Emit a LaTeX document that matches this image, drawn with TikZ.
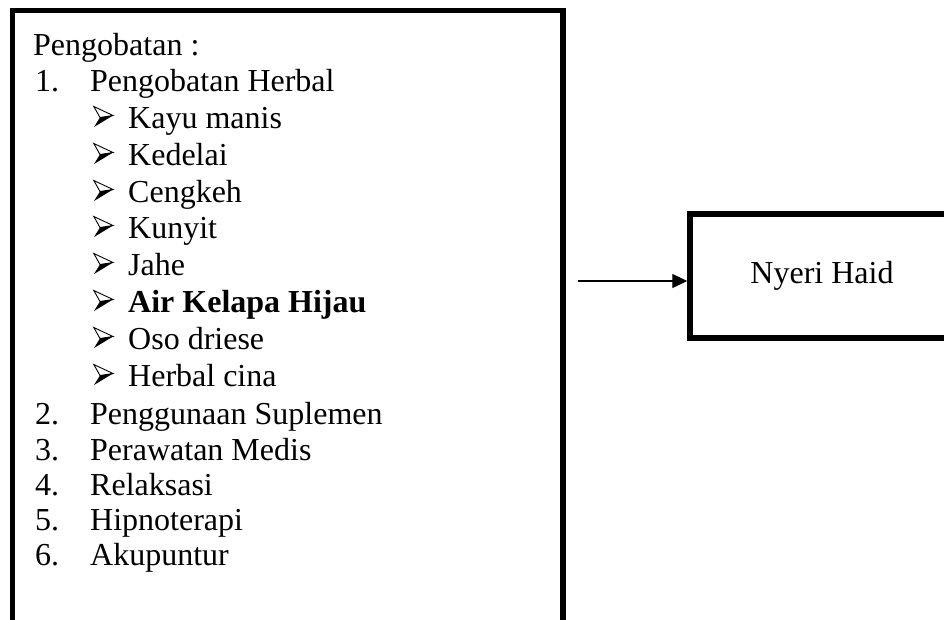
\documentclass[tikz,border=0pt]{standalone}
\usepackage{fontspec}
\setmainfont{Liberation Serif}
\usetikzlibrary{arrows.meta}
\tikzset{
  frame/.style={draw=black, line width=5.5pt, line join=miter},
  txt/.style={anchor=base west, inner sep=0pt, font=\fontsize{32}{37}\selectfont},
  conn/.style={line width=1.3pt, -{Triangle[length=15pt,width=14pt]}},
  arrowbul/.pic={
    \fill[black] (7,-9.5) -- (20,-11.5) -- (1,0) -- cycle;
    \draw[black, line width=0.9pt, line join=miter] (0.8,-20.5) -- (20,-11.5) -- (7,-9.5) -- cycle;
  }
}
\begin{document}
\begin{tikzpicture}[x=1pt,y=-1pt]
\useasboundingbox (0,0) rectangle (944,619);
\clip (0,0) rectangle (944,619);
% left frame
\node[frame, minimum width=550.5pt, minimum height=700pt, inner sep=0pt] (leftbox) at (287.75,360.5) {};
% right frame
\node[frame, minimum width=264pt, minimum height=124pt, inner sep=0pt,
      font=\fontsize{32}{37}\selectfont] (rightbox) at (822,276) {Nyeri Haid};
% list
\node[txt] (t0) at (33,55) {Pengobatan :};
\node[txt] (n1) at (35,91) {1.};
\node[txt] (t1) at (90,91) {Pengobatan Herbal};
\pic at (93,127) {arrowbul};
\node[txt] (h1) at (128,128) {Kayu manis};
\pic at (93,164) {arrowbul};
\node[txt] (h2) at (128,165) {Kedelai};
\pic at (93,201) {arrowbul};
\node[txt] (h3) at (128,202) {Cengkeh};
\pic at (93,237) {arrowbul};
\node[txt] (h4) at (128,238) {Kunyit};
\pic at (93,274) {arrowbul};
\node[txt] (h5) at (128,275) {Jahe};
\pic at (93,311) {arrowbul};
\node[txt, font=\bfseries\fontsize{32}{37}\selectfont] (h6) at (128,312) {Air Kelapa Hijau};
\pic at (93,348) {arrowbul};
\node[txt] (h7) at (128,349) {Oso driese};
\pic at (93,385) {arrowbul};
\node[txt] (h8) at (128,386) {Herbal cina};
\node[txt] (n2) at (35,424) {2.};
\node[txt] (t2) at (90,424) {Penggunaan Suplemen};
\node[txt] (n3) at (35,460) {3.};
\node[txt] (t3) at (90,460) {Perawatan Medis};
\node[txt] (n4) at (35,495) {4.};
\node[txt] (t4) at (90,495) {Relaksasi};
\node[txt] (n5) at (35,530) {5.};
\node[txt] (t5) at (90,530) {Hipnoterapi};
\node[txt] (n6) at (35,565) {6.};
\node[txt] (t6) at (90,565) {Akupuntur};
% connector
\coordinate (start) at (578,281);
\draw[conn] (start) -- (rightbox.west |- start);
\end{tikzpicture}
\end{document}
